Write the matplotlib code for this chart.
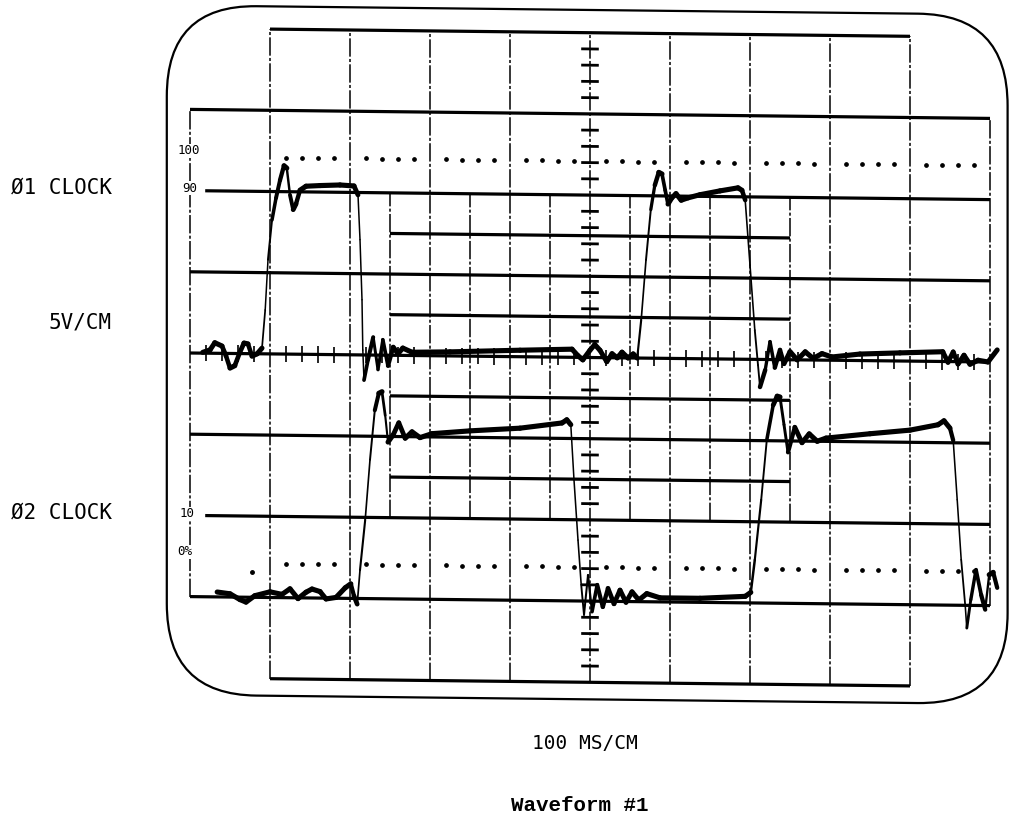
import numpy as np
import matplotlib
matplotlib.use("Agg")
import matplotlib.pyplot as plt
from matplotlib.collections import LineCollection
from matplotlib.patches import FancyBboxPatch
import matplotlib.transforms as mtransforms

# ---------------- data (time and voltage in graticule divisions) ----------------
phi1_t = [0.16, 0.25, 0.31, 0.40, 0.45, 0.50, 0.56, 0.625, 0.675, 0.725, 0.775, 0.84, 0.90,
          0.94, 0.975, 1.025, 1.075, 1.125, 1.175, 1.21, 1.25, 1.29, 1.325, 1.375, 1.45,
          1.625, 1.875, 2.05, 2.10, 2.125, 2.15, 2.16, 2.175, 2.225, 2.29, 2.35, 2.41,
          2.475, 2.54, 2.60, 2.66, 2.775, 3.25, 4.125, 4.775, 4.85, 4.91, 5.0, 5.06,
          5.125, 5.21, 5.275, 5.34, 5.40, 5.475, 5.54, 5.59, 5.64, 5.70, 5.76, 5.81,
          5.86, 5.90, 5.94, 5.975, 6.025, 6.075, 6.14, 6.225, 6.375, 6.625, 6.85, 6.90,
          6.94, 7.00, 7.06, 7.10, 7.125, 7.19, 7.25, 7.31, 7.375, 7.425, 7.50, 7.59,
          7.69, 7.79, 7.90, 8.025, 8.375, 8.875, 9.41, 9.475, 9.54, 9.60, 9.675, 9.75,
          9.85, 9.975, 10.09]
phi1_v = [0.01, 0.04, 0.13, 0.09, -0.03, -0.18, -0.15, 0.02, 0.13, 0.12, -0.03, 0.00, 0.07,
          0.54, 1.16, 1.65, 1.92, 2.14, 2.32, 2.29, 1.96, 1.78, 1.85, 2.02, 2.07,
          2.08, 2.09, 2.08, 1.97, 1.42, 0.68, 0.06, -0.31, -0.06, 0.22, -0.18, 0.19,
          -0.13, 0.10, 0.02, 0.09, 0.04, 0.05, 0.08, 0.10, 0.02, -0.03, 0.09, 0.16,
          0.09, -0.05, 0.05, 0.00, 0.07, 0.00, 0.05, 0.00, 0.47, 1.21, 1.83, 2.13,
          2.29, 2.27, 2.07, 1.90, 1.98, 2.03, 1.95, 1.98, 2.02, 2.07, 2.11, 2.08,
          1.96, 1.16, 0.36, -0.07, -0.34, -0.13, 0.22, -0.10, 0.12, -0.05, 0.10, 0.00,
          0.10, 0.02, 0.08, 0.04, 0.08, 0.10, 0.12, -0.01, 0.12, -0.03, 0.08, -0.03,
          0.02, 0.00, 0.15]

phi2_t = [0.34, 0.50, 0.625, 0.70, 0.81, 1.0, 1.15, 1.25, 1.35, 1.45, 1.525, 1.625, 1.70,
          1.825, 1.94, 2.01, 2.05, 2.09, 2.125, 2.19, 2.25, 2.31, 2.36, 2.40, 2.44,
          2.475, 2.54, 2.61, 2.69, 2.775, 2.875, 3.025, 3.5, 4.125, 4.65, 4.71, 4.76,
          4.80, 4.85, 4.89, 4.925, 4.975, 5.025, 5.09, 5.16, 5.225, 5.30, 5.375, 5.45,
          5.525, 5.61, 5.71, 5.875, 6.375, 6.94, 7.01, 7.06, 7.14, 7.21, 7.29, 7.34,
          7.375, 7.425, 7.475, 7.56, 7.65, 7.74, 7.84, 7.95, 8.5, 9.0, 9.35, 9.425,
          9.50, 9.54, 9.59, 9.64, 9.69, 9.71, 9.76, 9.825, 9.89, 9.94, 9.99, 10.04, 10.09]
phi2_v = [-2.94, -2.96, -3.03, -3.06, -2.98, -2.93, -2.96, -2.89, -3.01, -2.93, -2.89, -2.92, -3.01,
          -2.99, -2.87, -2.82, -2.97, -3.07, -2.65, -2.03, -1.29, -0.68, -0.47, -0.45, -0.74,
          -1.07, -0.98, -0.83, -1.02, -0.94, -1.01, -0.96, -0.92, -0.88, -0.81, -0.77, -0.83,
          -1.51, -2.25, -2.80, -3.17, -2.68, -3.13, -2.80, -3.07, -2.84, -3.03, -2.86, -3.01,
          -2.88, -2.98, -2.90, -2.95, -2.95, -2.92, -2.87, -2.47, -1.73, -0.99, -0.56, -0.45,
          -0.46, -0.80, -1.14, -0.83, -1.02, -0.91, -1.00, -0.96, -0.90, -0.85, -0.78, -0.73,
          -0.82, -0.97, -1.70, -2.44, -3.00, -3.28, -2.93, -2.56, -2.87, -3.05, -2.62, -2.59, -2.78]

stray_t = [0.78]
stray_v = [-2.69]

ref100_level = 2.42
ref0_level = -2.58
level_labels = ["100", "90", "10", "0%"]
level_label_x = [-0.02, 0.0, -0.04, -0.06]
level_label_y = [2.49, 2.03, -1.98, -2.45]

channel_labels = ["Ø1 CLOCK", "5V/CM", "Ø2 CLOCK"]
channel_label_y = [2.04, 0.37, -1.96]
x_caption = "100 MS/CM"
title_text = "Waveform #1"

# ---------------- figure ----------------
fig = plt.figure(figsize=(10.1, 8.19), dpi=100)
ax = fig.add_axes([0, 0, 1, 1])
ax.set_xlim(-190 / 80, (1010 - 190) / 80)
ax.set_ylim((353 - 819) / 81.2, 353 / 81.2)
ax.axis("off")
tilt = mtransforms.Affine2D().skew(0, np.arctan(-0.0111)) + ax.transData

K = "black"
HLW = 2.3
VLS = (0, (12, 1.5, 2, 1.5))

def hline(y, x0, x1, lw=HLW):
    ax.plot([x0, x1], [y, y], color=K, lw=lw, solid_capstyle="butt", transform=tilt, clip_on=False)

def vline(x, y0, y1, lw=1.1):
    ax.plot([x, x], [y0, y1], color=K, lw=lw, ls=VLS, transform=tilt, clip_on=False)

# CRT outline
crt = FancyBboxPatch((-0.29, -4.21), 10.51, 8.49,
                     boxstyle="round,pad=0,rounding_size=1.12",
                     fill=False, ec=K, lw=1.6, transform=tilt, clip_on=False)
ax.add_patch(crt)

# horizontal graticule
hline(4, 1, 9)
hline(-4, 1, 9)
for y in [3, 1, 0, -1, -3]:
    hline(y, 0, 10)
for y in [2, -2]:
    hline(y, 0.19, 10)
for y in [1.5, 0.5, -0.5, -1.5]:
    hline(y, 2.5, 7.5)

# vertical graticule
for x in [0, 10]:
    vline(x, -3, 3)
for x in range(1, 10):
    vline(x, -4, 4)
for x in np.arange(2.5, 7.6, 1.0):
    vline(x, -2, 2)

# centre axis minor ticks
cy = [y for y in np.arange(-4, 4.001, 0.2) if abs(y - round(y)) > 0.05]
ax.add_collection(LineCollection([[(4.89, y), (5.11, y)] for y in cy], colors=K,
                                 linewidths=2.0, transform=tilt))
# baseline minor ticks
bx = [x for x in np.arange(0, 10.001, 0.2) if abs(x - round(x)) > 0.05]
ax.add_collection(LineCollection([[(x, -0.1), (x, 0.1)] for x in bx], colors=K,
                                 linewidths=1.2, transform=tilt))

# dotted reference levels
dots_t = [k + f for k in range(1, 10) for f in (0.2, 0.4, 0.6, 0.8)]
for lev in (ref100_level, ref0_level):
    ax.plot(dots_t, [lev] * len(dots_t), ls="none", marker="o", ms=2.4, color=K,
            transform=tilt)

# level labels
for s, x, y in zip(level_labels, level_label_x, level_label_y):
    ax.text(x, y, s, ha="center", va="center", fontsize=9, family="DejaVu Sans Mono",
            bbox=dict(fc="white", ec="none", pad=0.5))

# traces
def trace(t, v):
    t = np.asarray(t, float)
    v = np.asarray(v, float)
    pts = np.column_stack([t, v])
    segs = np.stack([pts[:-1], pts[1:]], axis=1)
    slope = np.abs(np.diff(v) / np.diff(t))
    lw = 1.1 + 2.6 * np.exp(-(slope / 7.0) ** 2)
    lc = LineCollection(segs, linewidths=lw, colors=K, capstyle="round",
                        joinstyle="round", transform=tilt)
    lc.set_clip_on(False)
    ax.add_collection(lc)

trace(phi1_t, phi1_v)
trace(phi2_t, phi2_v)
ax.plot(stray_t, stray_v, ls="none", marker="o", ms=2.5, color=K, transform=tilt)

# channel labels
for s, y in zip(channel_labels, channel_label_y):
    ax.text(-0.975, y, s, ha="right", va="center", fontsize=15, family="DejaVu Sans Mono")

ax.text(4.94, -4.815, x_caption, ha="center", va="center", fontsize=14,
        family="DejaVu Sans Mono")
ax.text(4.875, -5.567, title_text, ha="center", va="center", fontsize=15,
        family="Liberation Mono", fontweight="bold")

fig.savefig("out.png", dpi=100)
